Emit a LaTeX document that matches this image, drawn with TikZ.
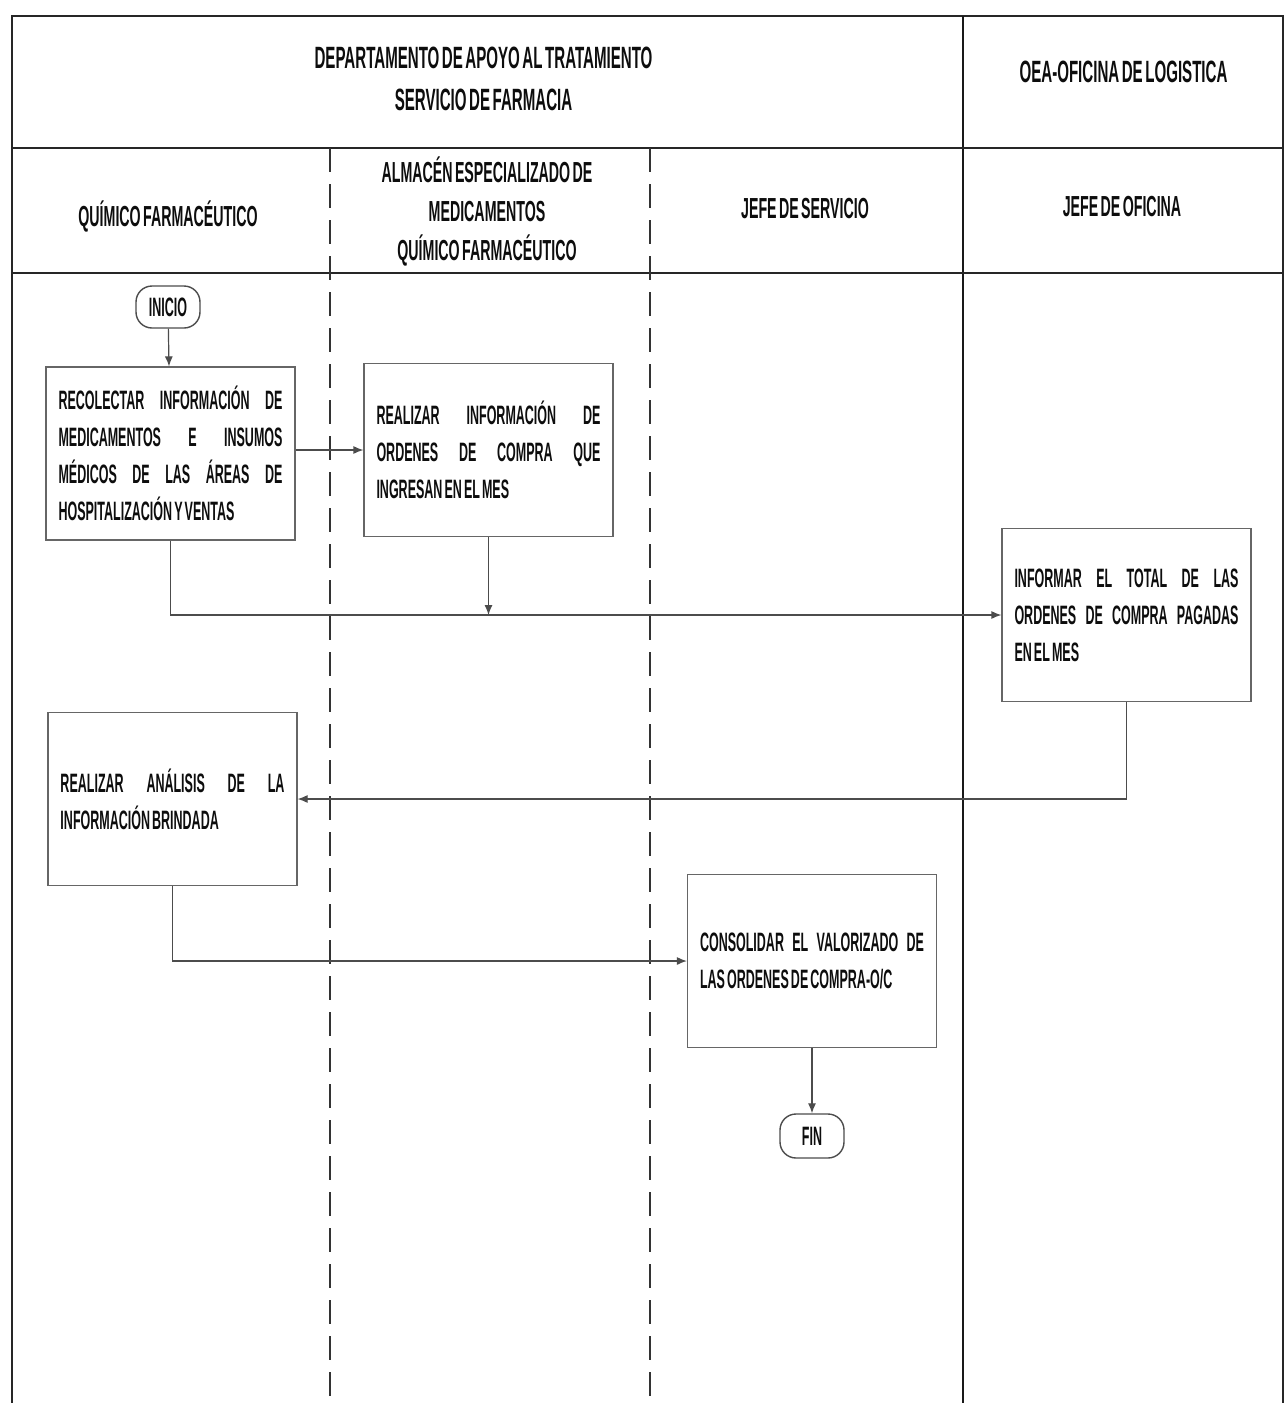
\documentclass[tikz,border=0pt]{standalone}
\usepackage{fontspec}
\setmainfont[FakeStretch=0.47, WordSpace=0.6]{Liberation Sans}
\newfontfamily\boxfam[FakeStretch=0.47, WordSpace=0.6]{Liberation Sans}
\newfontfamily\hdrfam[FakeStretch=0.49, WordSpace=0.6]{Liberation Sans}
\usetikzlibrary{arrows.meta}
\newcommand\boxfont{\boxfam\fontsize{13.3}{18.5}\selectfont\bfseries}
\newcommand\hdrfont{\hdrfam\fontsize{15.4}{21}\selectfont\bfseries}
\newcommand\lanefont{\hdrfam\fontsize{14.5}{19.5}\selectfont\bfseries}
\newcommand\jline[1]{\leavevmode\hbox to 112pt{#1}}
\newcommand\nline[1]{\leavevmode\hbox{\spaceskip=0pt\xspaceskip=0pt #1}}
\begin{document}
\begin{tikzpicture}[x=0.5pt,y=-0.5pt,
  frame/.style={line width=1.1pt, draw=black!85},
  heavy/.style={line width=1.4pt, draw=black!90},
  lane/.style={line width=0.9pt, dash pattern=on 12pt off 6pt, draw=black!80},
  proc/.style={draw=black!60, line width=0.6pt, minimum width=124.5pt, minimum height=86.5pt, text width=112pt, align=left, inner sep=0pt, font=\boxfont, text=black!95},
  term/.style={draw=black!70, line width=0.7pt, rounded corners=8pt, minimum width=32pt, minimum height=21pt, inner sep=1pt, font=\boxfont, text=black!95},
  hdr/.style={align=center, font=\hdrfont, text=black!95},
  lanehdr/.style={align=center, font=\lanefont, text=black!95},
  flow/.style={draw=black!70, line width=0.6pt, -{Latex[length=5pt,width=4pt]}}
]
\useasboundingbox[fill=white] (0,0) rectangle (1287,1403);

% frame and lanes
\draw[frame] (12,1403) -- (12,16) -- (1283,16) -- (1283,1403);
\draw[heavy] (963,16) -- (963,1403);
\draw[frame] (12,148) -- (1283,148);
\draw[frame] (12,273) -- (1283,273);
\draw[lane] (330,148) -- (330,1403);
\draw[lane] (650,148) -- (650,1403);

% headers
\node[hdr] (h1) at (483.5,79) {DEPARTAMENTO DE APOYO AL TRATAMIENTO\\SERVICIO DE FARMACIA};
\node[hdr] (h2) at (1123.5,72) {OEA-OFICINA DE LOGISTICA};
\node[lanehdr] (l1) at (168,216) {QUÍMICO FARMACÉUTICO};
\node[lanehdr] (l2) at (487,211) {ALMACÉN ESPECIALIZADO DE\\MEDICAMENTOS\\QUÍMICO FARMACÉUTICO};
\node[lanehdr] (l3) at (805,209) {JEFE DE SERVICIO};
\node[lanehdr] (l4) at (1122,207) {JEFE DE OFICINA};

% flow nodes
\node[term] (ini) at (168,307) {INICIO};
\node[proc] (b1) at (170.5,453.5) {\jline{RECOLECTAR\hfill INFORMACIÓN\hfill DE}\\\jline{MEDICAMENTOS\hfill E\hfill INSUMOS}\\\jline{MÉDICOS\hfill DE\hfill LAS\hfill ÁREAS\hfill DE}\\\nline{HOSPITALIZACIÓN Y VENTAS}};
\node[proc] (b2) at (488.5,450) {\jline{REALIZAR\hfill INFORMACIÓN\hfill DE}\\\jline{ORDENES\hfill DE\hfill COMPRA\hfill QUE}\\\nline{INGRESAN EN EL MES}};
\node[proc] (b3) at (1126.5,615) {\jline{INFORMAR\hfill EL\hfill TOTAL\hfill DE\hfill LAS}\\\jline{ORDENES\hfill DE\hfill COMPRA\hfill PAGADAS}\\\nline{EN EL MES}};
\node[proc] (b4) at (172.5,799) {\jline{REALIZAR\hfill ANÁLISIS\hfill DE\hfill LA}\\\nline{INFORMACIÓN BRINDADA}};
\node[proc] (b5) at (812,961) {\jline{CONSOLIDAR\hfill EL\hfill VALORIZADO\hfill DE}\\\nline{LAS ORDENES DE COMPRA-O/C}};
\node[term, minimum height=22pt] (fin) at (812,1136) {FIN};

% connectors
\draw[flow] (ini) -- (b1);
\draw[flow] (b1.east |- b2.west) -- (b2.west);
\draw[flow] (b1.south) |- (b3.west);
\draw[flow] (b2.south) -- (b2.south |- b3.west);
\draw[flow] (b3.south) |- (b4.east);
\draw[flow] (b4.south) |- (b5.west);
\draw[flow] (b5.south) -- (fin.north);
\end{tikzpicture}
\end{document}
